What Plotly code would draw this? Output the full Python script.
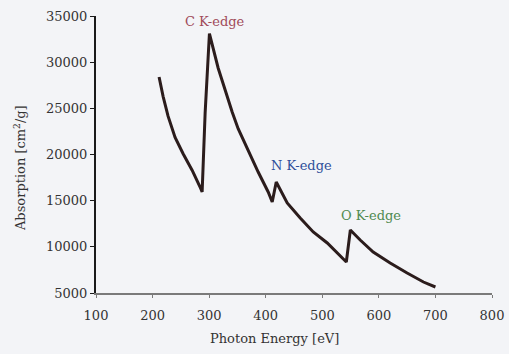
import plotly.graph_objects as go

# Photon energy (eV) and absorption (cm^2/g)
energy = [211.5, 218.6, 227.4, 239.8, 254, 269.9, 284, 287.6, 292.9, 300.5,
          315.9, 328.3, 340.7, 351.3, 369, 386.7, 404.4, 411.5, 418.6,
          438, 461, 484, 508.8, 526.5, 542.5, 549.6,
          567, 590, 620, 650, 678.8, 700]
absorption = [28400, 26300, 24150, 21850, 20080, 18300, 16480, 15940, 24500, 33100,
              29370, 26850, 24600, 22800, 20350, 18100, 15940, 14860, 17020,
              14750, 13120, 11610, 10420, 9330, 8360, 11820,
              10740, 9440, 8250, 7170, 6190, 5650]

edge_labels = ["C K-edge", "N K-edge", "O K-edge"]
edge_x = [311, 463, 586]
edge_y = [34400, 18850, 13350]
edge_colors = ["#a04a5a", "#2f4f9a", "#4f8a50"]

x_ticks = [100, 200, 300, 400, 500, 600, 700, 800]
y_ticks = [5000, 10000, 15000, 20000, 25000, 30000, 35000]

x_title = "Photon Energy [eV]"
y_title = "Absorption [cm<sup>2</sup>/g]"

font_family = "DejaVu Serif, Liberation Serif, serif"
txt = "#333333"

fig = go.Figure()
fig.add_trace(go.Scatter(
    x=energy, y=absorption, mode="lines",
    line=dict(color="#2b1c1c", width=3),
    showlegend=False, hoverinfo="skip",
))

for t, x, y, c in zip(edge_labels, edge_x, edge_y, edge_colors):
    fig.add_annotation(x=x, y=y, text=t, showarrow=False,
                       font=dict(family=font_family, size=13, color=c),
                       xanchor="center", yanchor="middle")

# axis titles placed as in the reference
fig.add_annotation(xref="paper", yref="paper", x=0.45, y=-0.166, text=x_title,
                   showarrow=False, xanchor="center", yanchor="middle",
                   font=dict(family=font_family, size=13, color=txt))
fig.add_annotation(xref="paper", yref="paper", x=-0.192, y=0.451, text=y_title,
                   showarrow=False, xanchor="center", yanchor="middle", textangle=-90,
                   font=dict(family=font_family, size=13, color=txt))

fig.update_layout(
    width=509, height=354,
    margin=dict(l=96, r=17, t=16, b=61),
    paper_bgcolor="#f3f4f7", plot_bgcolor="#f3f4f7",
    font=dict(family=font_family, size=13, color=txt),
    showlegend=False,
)
fig.update_xaxes(
    range=[100, 800], tickvals=x_ticks, ticktext=[str(v) for v in x_ticks],
    showgrid=False, zeroline=False, automargin=False,
    showline=True, linecolor="#7a7a7a", linewidth=2,
    ticks="outside", ticklen=3, tickcolor="#7a7a7a", ticklabelstandoff=6,
    tickfont=dict(family=font_family, size=13, color=txt),
)
fig.update_yaxes(
    range=[5000, 35000], tickvals=y_ticks, ticktext=[str(v) for v in y_ticks],
    showgrid=False, zeroline=False, automargin=False,
    showline=True, linecolor="#1a1a1a", linewidth=2,
    ticks="outside", ticklen=4, tickcolor="#1a1a1a",
    tickfont=dict(family=font_family, size=13, color=txt),
)

fig.write_html(
    "out.html",
    config={"displayModeBar": False},
    post_script="document.body.style.margin='0';document.body.style.background='#f3f4f7';",
)
